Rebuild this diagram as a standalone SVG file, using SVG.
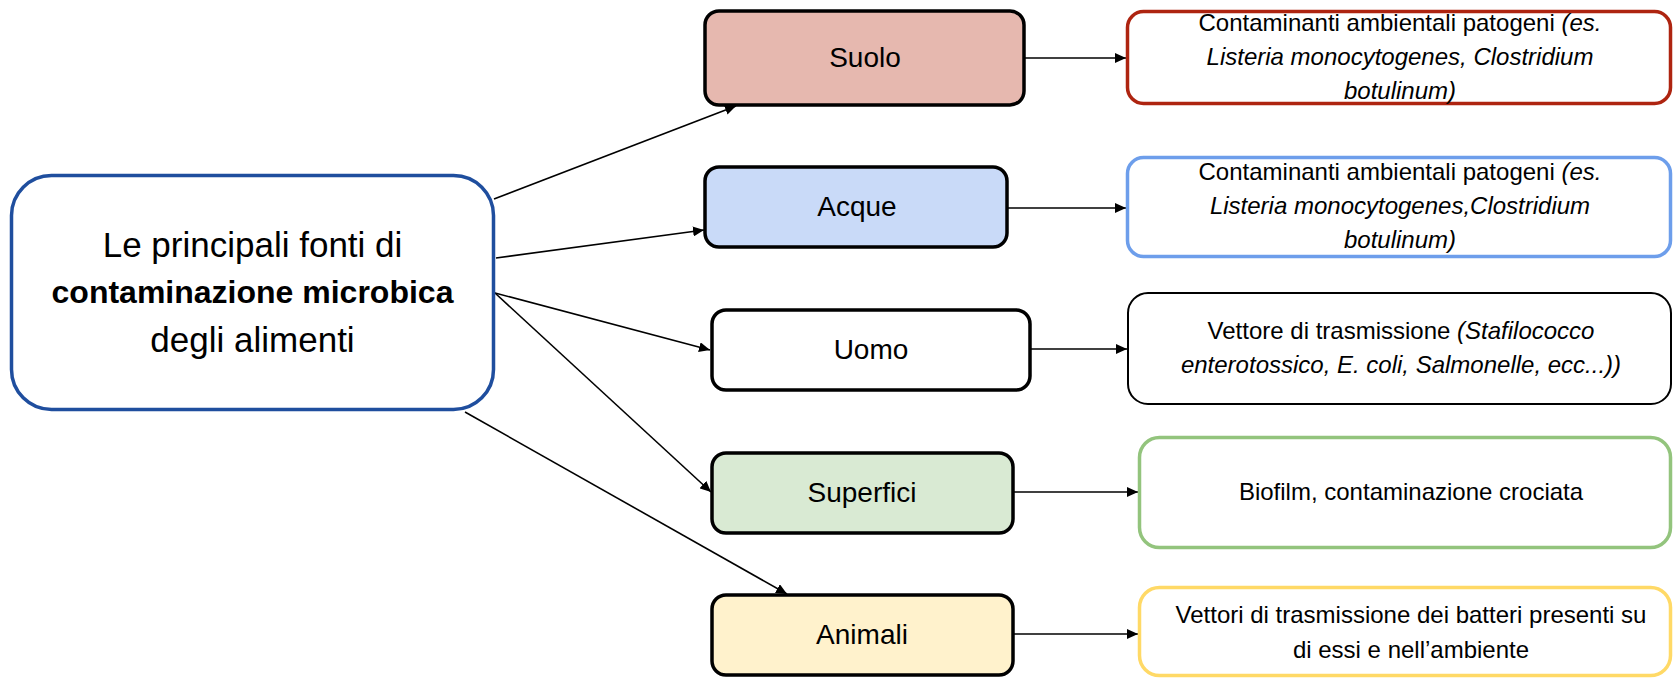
<svg xmlns="http://www.w3.org/2000/svg" width="1673" height="678" viewBox="0 0 1673 678">
<style>
text{font-family:"Liberation Sans",Arial,sans-serif;fill:#000;text-anchor:middle}
.main{font-size:35px}
.b{font-weight:bold;font-size:32px}
.lvl{font-size:28px}
.det{font-size:24px}
.i{font-style:italic}
.l2{stroke:#000;stroke-width:3.5}
.conn line{stroke:#000;stroke-width:1.6;fill:none}
</style>
<defs>
<marker id="ah" markerUnits="userSpaceOnUse" markerWidth="12" markerHeight="10" refX="11" refY="5" orient="auto">
<path d="M0,0 L11,5 L0,10 Z" fill="#000"/>
</marker>
</defs>
<rect width="1673" height="678" fill="#fff"/>
<g class="conn">
<line x1="494" y1="199" x2="736" y2="106" marker-end="url(#ah)"/>
<line x1="496" y1="258" x2="704" y2="230" marker-end="url(#ah)"/>
<line x1="495" y1="293" x2="710" y2="350" marker-end="url(#ah)"/>
<line x1="495" y1="293" x2="711" y2="492" marker-end="url(#ah)"/>
<line x1="465" y1="412" x2="787" y2="594" marker-end="url(#ah)"/>
<line x1="1025" y1="58" x2="1126" y2="58" marker-end="url(#ah)"/>
<line x1="1008" y1="208" x2="1126" y2="208" marker-end="url(#ah)"/>
<line x1="1031" y1="349" x2="1127" y2="349" marker-end="url(#ah)"/>
<line x1="1014" y1="492" x2="1138" y2="492" marker-end="url(#ah)"/>
<line x1="1014" y1="634" x2="1138" y2="634" marker-end="url(#ah)"/>
</g>
<g id="main">
<rect x="11.5" y="175.5" width="482" height="234" rx="40" fill="#fff" stroke="#1F4E9E" stroke-width="3.5"/>
<text class="main" x="252.5" y="257">Le principali fonti di</text>
<text class="main b" x="252.5" y="303">contaminazione microbica</text>
<text class="main" x="252.5" y="352">degli alimenti</text>
</g>
<g id="suolo">
<rect class="l2" x="705" y="11" width="319" height="94" rx="14" fill="#E6B8AF"/>
<text class="lvl" x="865" y="67">Suolo</text>
</g>
<g id="acque">
<rect class="l2" x="705" y="167" width="302" height="80" rx="14" fill="#C9DAF8"/>
<text class="lvl" x="857" y="216">Acque</text>
</g>
<g id="uomo">
<rect class="l2" x="712" y="310" width="318" height="80" rx="14" fill="#fff"/>
<text class="lvl" x="871" y="359">Uomo</text>
</g>
<g id="superfici">
<rect class="l2" x="712" y="453" width="301" height="80" rx="14" fill="#D9EAD3"/>
<text class="lvl" x="862" y="502">Superfici</text>
</g>
<g id="animali">
<rect class="l2" x="712" y="595" width="301" height="80" rx="14" fill="#FFF2CC"/>
<text class="lvl" x="862" y="644">Animali</text>
</g>
<g id="det-suolo">
<rect x="1127.5" y="11.5" width="543" height="92" rx="16" fill="#fff" stroke="#AE2410" stroke-width="3.5"/>
<text class="det" x="1400" y="31">Contaminanti ambientali patogeni <tspan class="i">(es.</tspan></text>
<text class="det i" x="1400" y="65">Listeria monocytogenes, Clostridium</text>
<text class="det i" x="1400" y="99">botulinum)</text>
</g>
<g id="det-acque">
<rect x="1127.5" y="157.5" width="543" height="99" rx="16" fill="#fff" stroke="#6D9EEB" stroke-width="3.5"/>
<text class="det" x="1400" y="180">Contaminanti ambientali patogeni <tspan class="i">(es.</tspan></text>
<text class="det i" x="1400" y="214">Listeria monocytogenes,Clostridium</text>
<text class="det i" x="1400" y="248">botulinum)</text>
</g>
<g id="det-uomo">
<rect x="1128" y="293" width="543" height="111" rx="20" fill="#fff" stroke="#000" stroke-width="2"/>
<text class="det" x="1401" y="339">Vettore di trasmissione <tspan class="i">(Stafilococco</tspan></text>
<text class="det i" x="1401" y="373">enterotossico, E. coli, Salmonelle, ecc...))</text>
</g>
<g id="det-superfici">
<rect x="1139.5" y="437.5" width="531" height="110" rx="20" fill="#fff" stroke="#93C47D" stroke-width="3.5"/>
<text class="det" x="1411" y="500">Biofilm, contaminazione crociata</text>
</g>
<g id="det-animali">
<rect x="1139.5" y="587.5" width="531" height="88" rx="20" fill="#fff" stroke="#FFD966" stroke-width="3.5"/>
<text class="det" x="1411" y="623">Vettori di trasmissione dei batteri presenti su</text>
<text class="det" x="1411" y="658">di essi e nell’ambiente</text>
</g>
</svg>
